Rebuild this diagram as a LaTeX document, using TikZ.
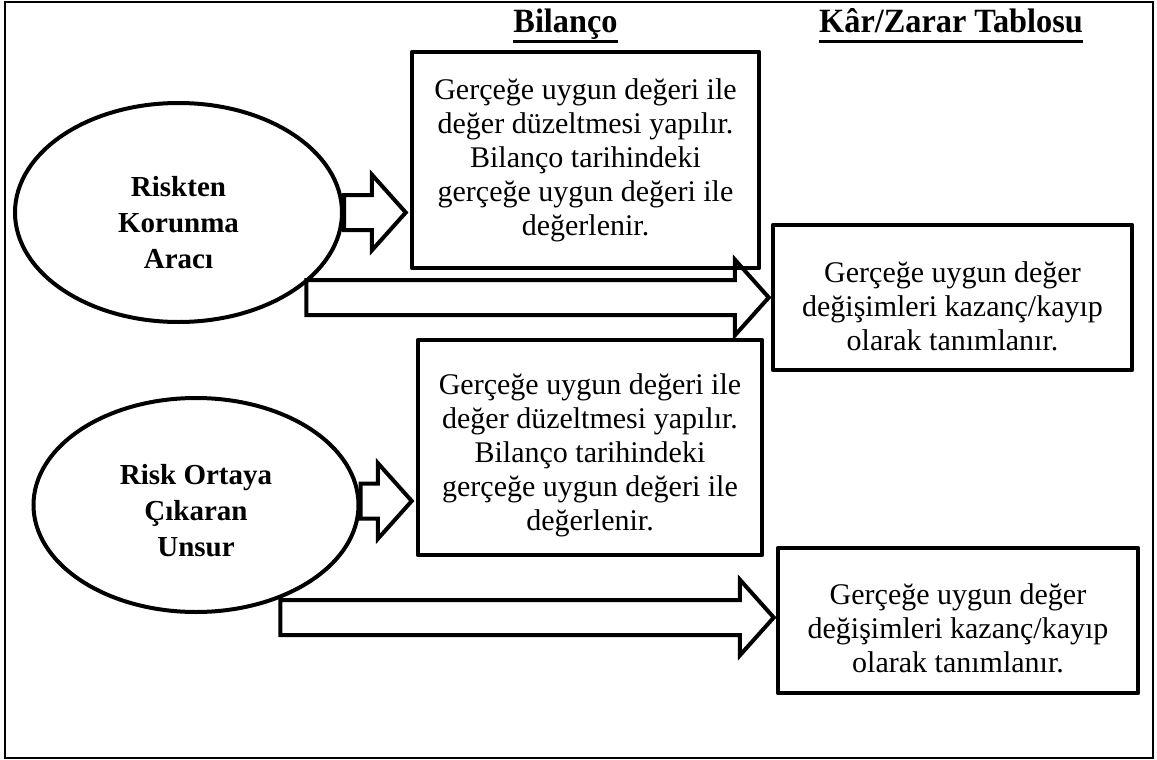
\documentclass[tikz,border=0pt]{standalone}
\usepackage{fontspec}
\setmainfont{Liberation Serif}
\newfontfamily\headfont[FakeStretch=0.95]{Liberation Serif}
\usepackage{tikz}
\usetikzlibrary{calc,shapes.geometric}
\tikzset{
	box/.style={draw, line width=4.5pt, line join=round, align=center, inner sep=0pt,
		font=\fontsize{30}{34}\selectfont},
	oval/.style={draw, ellipse, line width=4pt, align=center, inner sep=0pt,
		font=\fontsize{29}{36}\selectfont\bfseries},
	colhead/.style={anchor=base, inner sep=0pt, font=\headfont\fontsize{34}{38}\selectfont\bfseries},
	fatarrow/.style={draw, line width=4pt},
	frame/.style={draw, line width=1.5pt}
}
% block arrow: tail x from #1, tip at #2
\newcommand{\blockarrow}[2]{%
	\draw[fatarrow] let \p1=(#1), \p2=(#2) in
	(\x1,\y2+17.5pt) -- (\x2-34pt,\y2+17.5pt) -- (\x2-34pt,\y2+38pt)
	-- (\x2,\y2) -- (\x2-34pt,\y2-38pt) -- (\x2-34pt,\y2-17.5pt)
	-- (\x1,\y2-17.5pt) -- cycle;}
% pushes a node's text down inside its border
\newcommand{\textdrop}[1]{\rule{0pt}{#1pt}}

\begin{document}
\begin{tikzpicture}[x=1pt, y=-1pt]
	\useasboundingbox (0,0) rectangle (1157,760);
	\draw[frame] (5,2) rectangle (1153,758);
	
	%% -- column headers
	\node[colhead] (hbil) at (565.5,33) {Bilanço};
	\node[colhead] (hkz) at (951,33) {Kâr/Zarar Tablosu};
	\draw[line width=3pt] ([yshift=-9pt]hbil.base west) -- ([yshift=-9pt]hbil.base east);
	\draw[line width=3pt] ([yshift=-9pt]hkz.base west) -- ([yshift=-9pt]hkz.base east);
	
	%% -- hedging instrument
	\node[oval, minimum width=327, minimum height=219] (e1) at (178.5,212.5)
	{\textdrop{40}Riskten\\Korunma\\Aracı};
	\node[box, minimum width=347, minimum height=216] (b1) at (585.5,160)
	{Gerçeğe uygun değeri ile\\değer düzeltmesi yapılır.\\Bilanço tarihindeki\\gerçeğe uygun değeri ile\\değerlenir.};
	\node[box, minimum width=359, minimum height=145] (b2) at (952.5,297.5)
	{\textdrop{38}Gerçeğe uygun değer\\değişimleri kazanç/kayıp\\olarak tanımlanır.};
	
	%% -- hedged item
	\node[oval, minimum width=325, minimum height=214] (e2) at (196,505)
	{\textdrop{32}Risk Ortaya\\Çıkaran\\Unsur};
	\node[box, minimum width=344, minimum height=215] (b3) at (590,447.5)
	{\textdrop{36}Gerçeğe uygun değeri ile\\değer düzeltmesi yapılır.\\Bilanço tarihindeki\\gerçeğe uygun değeri ile\\değerlenir.};
	\node[box, minimum width=360, minimum height=145] (b4) at (958,620.5)
	{\textdrop{36}Gerçeğe uygun değer\\değişimleri kazanç/kayıp\\olarak tanımlanır.};
	
	%% -- block arrows
	\blockarrow{e1.east}{$(b1.west |- e1.east)+(-4,0)$}
	\blockarrow{e1.-29}{$(b2.west)+(-2,0)$}
	\blockarrow{e2.east}{$(b3.west |- e2.east)+(-4,-4)$}
	\blockarrow{e2.-48}{$(b4.west)+(-2,-3)$}
	
\end{tikzpicture}
\end{document}
